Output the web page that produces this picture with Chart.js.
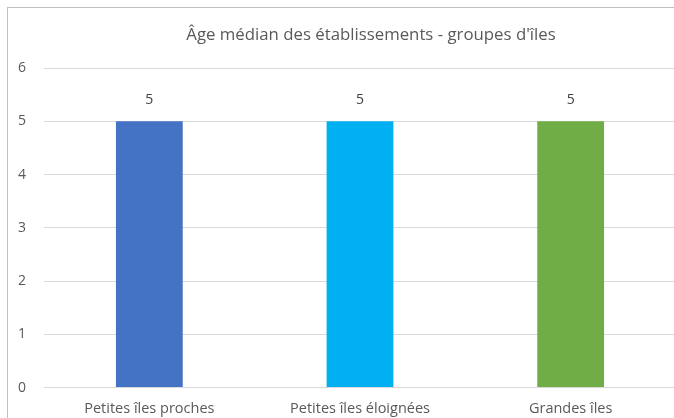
<!DOCTYPE html>
<html><head><meta charset="utf-8">
<script src="https://cdn.jsdelivr.net/npm/chart.js@4/dist/chart.umd.min.js"></script>
<style>
html,body{margin:0;padding:0;background:#fff;overflow:hidden;}
#clip{position:fixed;left:0;top:0;width:674px;height:418px;overflow:hidden;background:#fff;}
#box{position:absolute;left:7px;top:7px;width:726px;height:440px;border:1px solid #bfbfbf;background:#fff;}
#wrap{position:relative;width:726px;height:430px;}
#title{position:absolute;left:0;width:726px;top:14px;text-align:center;font-family:'Open Sans','Liberation Sans',sans-serif;font-size:16.8px;color:#595959;white-space:nowrap;}
</style></head>
<body>
<div id="clip"><div id="box"><div id="wrap"><canvas id="c"></canvas></div><div id="title"></div></div></div>
<script>
const categories = ["Petites îles proches", "Petites îles éloignées", "Grandes îles"];
const values = [5, 5, 5];
const barColors = ["#4472C4", "#00B0F0", "#70AD47"];
const chartTitle = "Âge médian des établissements - groupes d'îles";

const FONT = "'Open Sans', 'Liberation Sans', sans-serif";
document.getElementById('title').textContent = chartTitle;

const labelPlugin = {
  id: 'valLabels',
  afterDatasetsDraw(chart) {
    const ctx = chart.ctx;
    const meta = chart.getDatasetMeta(0);
    ctx.save();
    ctx.font = "14px " + FONT;
    ctx.fillStyle = "#404040";
    ctx.textAlign = "center";
    ctx.textBaseline = "bottom";
    meta.data.forEach((bar, i) => {
      ctx.fillText(String(chart.data.datasets[0].data[i]), bar.x, bar.y - 14);
    });
    ctx.restore();
  }
};

new Chart(document.getElementById('c'), {
  type: 'bar',
  data: {
    labels: categories,
    datasets: [{
      data: values,
      backgroundColor: barColors,
      barPercentage: 1,
      categoryPercentage: 0.317
    }]
  },
  options: {
    responsive: true,
    maintainAspectRatio: false,
    animation: false,
    layout: { padding: { left: -8, right: 58, top: 60, bottom: 15 } },
    plugins: {
      legend: { display: false },
      tooltip: { enabled: false },
      title: { display: false }
    },
    scales: {
      x: {
        grid: { display: false },
        border: { color: "#d9d9d9" },
        ticks: { color: "#595959", font: { family: FONT, size: 14.5 }, padding: 5, maxRotation: 0 }
      },
      y: {
        min: 0, max: 6,
        ticks: { stepSize: 1, color: "#595959", font: { family: FONT, size: 14 }, padding: 18 },
        grid: { color: "#d9d9d9", drawTicks: false },
        border: { display: false }
      }
    }
  },
  plugins: [labelPlugin]
});
</script>
</body></html>
